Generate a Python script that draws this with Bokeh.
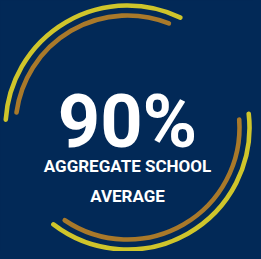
from bokeh.plotting import figure
from bokeh.models import Range1d, GlobalInlineStyleSheet
from bokeh.embed import file_html
from bokeh.resources import INLINE
from bokeh.core.properties import value as pv
import math

# ---- data ----
score = 90
score_label = f"{score}%"
caption_lines = ["AGGREGATE SCHOOL", "AVERAGE"]

# decorative ring segments: (start_deg, end_deg, ring)
seg_start = [64.3, 68.3, 232.6, 235.9]
seg_end = [176.3, 172.3, 366.5, 364.1]
seg_ring = ["outer", "inner", "outer", "inner"]

BG = "#022957"
YELLOW = "#cfc52b"
BROWN = "#a9792a"
WHITE = "#ffffff"

# figure sits at page offset (8, 8); work in window pixel coordinates
OFF = 8
W, H = 253, 251

p = figure(width=W, height=H, output_backend="svg", toolbar_location=None,
           x_range=Range1d(OFF, OFF + W), y_range=Range1d(0, H), min_border=0,
           background_fill_color=BG, border_fill_color=BG, outline_line_color=None)
p.axis.visible = False
p.grid.visible = False
p.stylesheets = [GlobalInlineStyleSheet(css=f"html, body {{ background-color: {BG}; }}")]

def Y(py):
    # window row -> data y
    return H - (py - OFF)

cx, cy = 135, Y(135)
radius = {"outer": 122, "inner": 112}
color = {"outer": YELLOW, "inner": BROWN}

for s, e, r in zip(seg_start, seg_end, seg_ring):
    p.arc(x=[cx], y=[cy], radius=radius[r], radius_units="data",
          start_angle=math.radians(s), end_angle=math.radians(e), direction="anticlock",
          line_color=color[r], line_width=4.6, line_cap="round")

font = pv("Roboto")
p.text(x=[cx], y=[Y(129)], text=[score_label], text_font=font, text_font_style="bold",
       text_font_size="74px", text_color=WHITE, text_align="center",
       text_baseline="alphabetic")
p.text(x=[cx, cx], y=[Y(173), Y(203)], text=caption_lines, text_font=font,
       text_font_style="bold", text_font_size="17px", text_color=WHITE,
       text_align="center", text_baseline="alphabetic")

open("out.html", "w").write(file_html(p, INLINE))
